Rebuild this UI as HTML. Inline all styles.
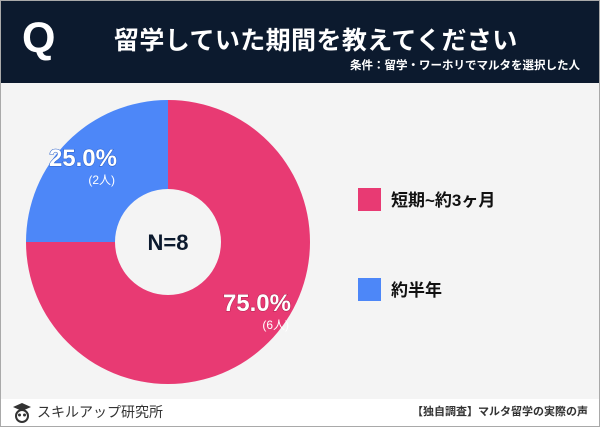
<!DOCTYPE html>
<html><head><meta charset="utf-8"><style>
html,body{margin:0;padding:0;}
body{width:600px;height:427px;overflow:hidden;background:#fff;font-family:"Liberation Sans","Noto Sans CJK JP",sans-serif;}
#frame{position:absolute;left:0;top:0;width:598px;height:425px;border:1px solid #a9a9a9;background:#f4f4f4;}
#header{position:absolute;left:0;top:0;width:598px;height:82px;background:#0c1a2e;}
#footer{position:absolute;left:0;top:398px;width:598px;height:27px;background:#fff;}
</style></head><body>
<div id="frame">
<div id="header">
  <div style="position:absolute;left:21px;top:16px;color:#fff;font-weight:bold;font-size:43px;line-height:43px;">Q</div>
  <div style="position:absolute;left:113px;top:26px;color:#fff;font-weight:bold;font-size:25px;line-height:28px;letter-spacing:0.4px;white-space:nowrap;">留学していた期間を教えてください</div>
  <div style="position:absolute;right:19px;top:58px;color:#fff;font-weight:bold;font-size:11.5px;line-height:14px;white-space:nowrap;">条件：留学・ワーホリでマルタを選択した人</div>
</div>
<svg id="chart" width="598" height="316" style="position:absolute;left:0;top:82px;"></svg>
<div id="footer">
  <svg width="22" height="24" style="position:absolute;left:10px;top:2px;"><path d="M2 6 L11 2 L20 6 L11 10 Z" fill="#333"/><circle cx="11" cy="15" r="6" fill="none" stroke="#333" stroke-width="2"/><circle cx="8.5" cy="14" r="1.5" fill="#333"/><circle cx="13.5" cy="14" r="1.5" fill="#333"/></svg>
  <div style="position:absolute;left:36px;top:5px;font-size:14px;color:#333;line-height:16px;">スキルアップ研究所</div>
  <div style="position:absolute;right:11px;top:7px;font-size:11px;font-weight:bold;color:#333;line-height:13px;">【独自調査】マルタ留学の実際の声</div>
</div>
</div>
<script>
const categories = ["短期~約3ヶ月", "約半年"];
const values = [6, 2];
const colors = ["#e83a73", "#4d87f8"];
const total = values.reduce((a,b)=>a+b,0);
const NS = "http://www.w3.org/2000/svg";
const svg = document.getElementById('chart');
const cx = 167, cy = 159, R = 142, r = 53;
function pt(a, rad){ return [cx + rad*Math.sin(a), cy - rad*Math.cos(a)]; }
let start = 0;
values.forEach((v,i)=>{
  const ang = v/total*2*Math.PI;
  const end = start + ang;
  const large = ang > Math.PI ? 1 : 0;
  const [x1,y1]=pt(start,R),[x2,y2]=pt(end,R),[x3,y3]=pt(end,r),[x4,y4]=pt(start,r);
  const p = document.createElementNS(NS,'path');
  p.setAttribute('d',`M${x1},${y1} A${R},${R} 0 ${large} 1 ${x2},${y2} L${x3},${y3} A${r},${r} 0 ${large} 0 ${x4},${y4} Z`);
  p.setAttribute('fill',colors[i]);
  
  
  svg.appendChild(p);
  start = end;
});
const labelPos = [[290,228],[116,83]];
values.forEach((v,i)=>{
  const pct = (v/total*100).toFixed(1)+'%';
  const t = document.createElementNS(NS,'text');
  t.setAttribute('x',labelPos[i][0]); t.setAttribute('y',labelPos[i][1]);
  t.setAttribute('text-anchor','end');
  t.setAttribute('font-size','24'); t.setAttribute('font-weight','bold');
  t.setAttribute('fill','#fff'); t.setAttribute('stroke',i===0?'#b0204f':'#2a5fc8');
  t.setAttribute('stroke-width','1'); t.setAttribute('paint-order','stroke');
  t.textContent = pct;
  
  
  svg.appendChild(t);
  const c = document.createElementNS(NS,'text');
  c.setAttribute('x',labelPos[i][0]-2); c.setAttribute('y',labelPos[i][1]+18);
  c.setAttribute('text-anchor','end'); c.setAttribute('font-size','12'); c.setAttribute('fill','#fff');
  c.textContent = '('+v+'人)';
  
  
  svg.appendChild(c);
});
const n = document.createElementNS(NS,'text');
n.setAttribute('x',cx); n.setAttribute('y',cy+8); n.setAttribute('text-anchor','middle');
n.setAttribute('font-size','22'); n.setAttribute('font-weight','bold'); n.setAttribute('fill','#0c1a2e');
n.textContent = 'N=' + total;


svg.appendChild(n);
categories.forEach((c,i)=>{
  const y = 105 + i*90;
  const rect = document.createElementNS(NS,'rect');
  rect.setAttribute('x',357); rect.setAttribute('y',y); rect.setAttribute('width',23); rect.setAttribute('height',23);
  rect.setAttribute('fill',colors[i]);
  
  
  svg.appendChild(rect);
  const t = document.createElementNS(NS,'text');
  t.setAttribute('x',390); t.setAttribute('y',y+18);
  t.setAttribute('font-size','17'); t.setAttribute('font-weight','bold'); t.setAttribute('fill','#111');
  t.textContent = c;
  
  
  svg.appendChild(t);
});
</script>
</body></html>
